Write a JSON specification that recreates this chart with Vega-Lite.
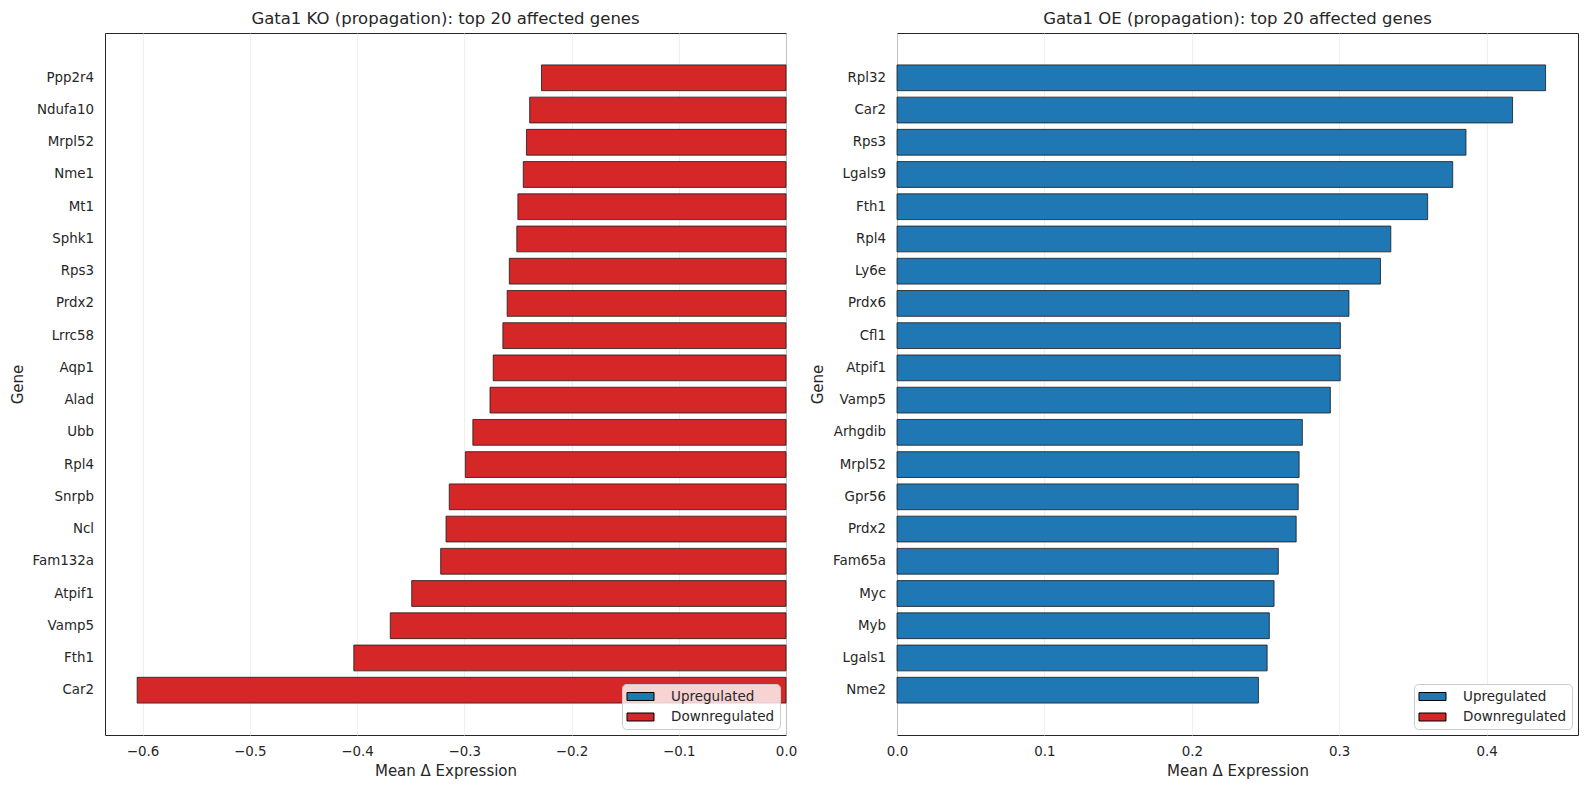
{
  "$schema": "https://vega.github.io/schema/vega-lite/v6.json",
  "background": "white",
  "padding": {"left": 9, "top": 10, "right": 12, "bottom": 2},
  "datasets": {
    "ko": [
      {"gene": "Ppp2r4", "rank": 1, "value": -0.228, "direction": "Downregulated"},
      {"gene": "Ndufa10", "rank": 2, "value": -0.239, "direction": "Downregulated"},
      {"gene": "Mrpl52", "rank": 3, "value": -0.242, "direction": "Downregulated"},
      {"gene": "Nme1", "rank": 4, "value": -0.245, "direction": "Downregulated"},
      {"gene": "Mt1", "rank": 5, "value": -0.250, "direction": "Downregulated"},
      {"gene": "Sphk1", "rank": 6, "value": -0.251, "direction": "Downregulated"},
      {"gene": "Rps3", "rank": 7, "value": -0.258, "direction": "Downregulated"},
      {"gene": "Prdx2", "rank": 8, "value": -0.260, "direction": "Downregulated"},
      {"gene": "Lrrc58", "rank": 9, "value": -0.264, "direction": "Downregulated"},
      {"gene": "Aqp1", "rank": 10, "value": -0.273, "direction": "Downregulated"},
      {"gene": "Alad", "rank": 11, "value": -0.276, "direction": "Downregulated"},
      {"gene": "Ubb", "rank": 12, "value": -0.292, "direction": "Downregulated"},
      {"gene": "Rpl4", "rank": 13, "value": -0.299, "direction": "Downregulated"},
      {"gene": "Snrpb", "rank": 14, "value": -0.314, "direction": "Downregulated"},
      {"gene": "Ncl", "rank": 15, "value": -0.317, "direction": "Downregulated"},
      {"gene": "Fam132a", "rank": 16, "value": -0.322, "direction": "Downregulated"},
      {"gene": "Atpif1", "rank": 17, "value": -0.349, "direction": "Downregulated"},
      {"gene": "Vamp5", "rank": 18, "value": -0.369, "direction": "Downregulated"},
      {"gene": "Fth1", "rank": 19, "value": -0.403, "direction": "Downregulated"},
      {"gene": "Car2", "rank": 20, "value": -0.605, "direction": "Downregulated"}
    ],
    "oe": [
      {"gene": "Rpl32", "rank": 1, "value": 0.440, "direction": "Upregulated"},
      {"gene": "Car2", "rank": 2, "value": 0.4176, "direction": "Upregulated"},
      {"gene": "Rps3", "rank": 3, "value": 0.386, "direction": "Upregulated"},
      {"gene": "Lgals9", "rank": 4, "value": 0.377, "direction": "Upregulated"},
      {"gene": "Fth1", "rank": 5, "value": 0.360, "direction": "Upregulated"},
      {"gene": "Rpl4", "rank": 6, "value": 0.335, "direction": "Upregulated"},
      {"gene": "Ly6e", "rank": 7, "value": 0.328, "direction": "Upregulated"},
      {"gene": "Prdx6", "rank": 8, "value": 0.3066, "direction": "Upregulated"},
      {"gene": "Cfl1", "rank": 9, "value": 0.3008, "direction": "Upregulated"},
      {"gene": "Atpif1", "rank": 10, "value": 0.3007, "direction": "Upregulated"},
      {"gene": "Vamp5", "rank": 11, "value": 0.294, "direction": "Upregulated"},
      {"gene": "Arhgdib", "rank": 12, "value": 0.275, "direction": "Upregulated"},
      {"gene": "Mrpl52", "rank": 13, "value": 0.2728, "direction": "Upregulated"},
      {"gene": "Gpr56", "rank": 14, "value": 0.2722, "direction": "Upregulated"},
      {"gene": "Prdx2", "rank": 15, "value": 0.2708, "direction": "Upregulated"},
      {"gene": "Fam65a", "rank": 16, "value": 0.2587, "direction": "Upregulated"},
      {"gene": "Myc", "rank": 17, "value": 0.2558, "direction": "Upregulated"},
      {"gene": "Myb", "rank": 18, "value": 0.2526, "direction": "Upregulated"},
      {"gene": "Lgals1", "rank": 19, "value": 0.2511, "direction": "Upregulated"},
      {"gene": "Nme2", "rank": 20, "value": 0.2452, "direction": "Upregulated"}
    ]
  },
  "config": {
    "font": "DejaVu Sans",
    "view": {"stroke": "#262626", "strokeWidth": 1},
    "title": {"fontSize": 16.5, "fontWeight": "normal", "color": "#262626", "offset": 6, "font": "DejaVu Sans"},
    "axis": {
      "labelFont": "DejaVu Sans",
      "labelFontSize": 13.4,
      "labelColor": "#262626",
      "labelFlush": false,
      "labelOverlap": false,
      "titleFont": "DejaVu Sans",
      "titleFontSize": 15,
      "titleFontWeight": "normal",
      "titleColor": "#262626",
      "domain": false,
      "ticks": false
    },
    "axisX": {"grid": true, "gridColor": "#ebebeb", "gridWidth": 0.8, "labelPadding": 9, "titlePadding": 6},
    "axisY": {"grid": false, "labelPadding": 11.5, "titlePadding": 7},
    "legend": {
      "orient": "bottom-right",
      "offset": 6,
      "title": null,
      "fillColor": "rgba(255,255,255,0.8)",
      "strokeColor": "#cccccc",
      "cornerRadius": 4,
      "padding": 5,
      "labelFont": "DejaVu Sans",
      "labelFontSize": 13.5,
      "labelColor": "#262626",
      "labelOffset": 23,
      "rowPadding": 6.5,
      "symbolType": "M-1.93,-0.57H1.93V0.57H-1.93Z",
      "symbolSize": 196,
      "symbolOffset": 6,
      "symbolStrokeColor": "black",
      "symbolStrokeWidth": 1,
      "symbolOpacity": 1
    },
    "concat": {"spacing": 12}
  },
  "hconcat": [
    {
      "title": "Gata1 KO (propagation): top 20 affected genes",
      "data": {"name": "ko"},
      "width": 681,
      "height": 702,
      "mark": {"type": "bar", "stroke": "#1a1a1a", "strokeWidth": 0.8},
      "encoding": {
        "y": {
          "field": "gene",
          "type": "nominal",
          "sort": {"field": "rank", "order": "ascending"},
          "title": "Gene",
          "scale": {"paddingInner": 0.2, "paddingOuter": 0.99}
        },
        "x": {
          "field": "value",
          "type": "quantitative",
          "title": "Mean Δ Expression",
          "scale": {"domain": [-0.635, 0], "nice": false, "zero": false},
          "axis": {"values": [-0.6, -0.5, -0.4, -0.3, -0.2, -0.1, 0], "format": ".1f"}
        },
        "color": {
          "field": "direction",
          "type": "nominal",
          "scale": {"domain": ["Upregulated", "Downregulated"], "range": ["#1f77b4", "#d62728"]}
        }
      }
    },
    {
      "title": "Gata1 OE (propagation): top 20 affected genes",
      "data": {"name": "oe"},
      "width": 681,
      "height": 702,
      "mark": {"type": "bar", "stroke": "#1a1a1a", "strokeWidth": 0.8},
      "encoding": {
        "y": {
          "field": "gene",
          "type": "nominal",
          "sort": {"field": "rank", "order": "ascending"},
          "title": "Gene",
          "scale": {"paddingInner": 0.2, "paddingOuter": 0.99}
        },
        "x": {
          "field": "value",
          "type": "quantitative",
          "title": "Mean Δ Expression",
          "scale": {"domain": [0, 0.462], "nice": false, "zero": false},
          "axis": {"values": [0, 0.1, 0.2, 0.3, 0.4], "format": ".1f"}
        },
        "color": {
          "field": "direction",
          "type": "nominal",
          "scale": {"domain": ["Upregulated", "Downregulated"], "range": ["#1f77b4", "#d62728"]}
        }
      }
    }
  ],
  "resolve": {"legend": {"color": "independent"}, "scale": {"color": "independent"}}
}
